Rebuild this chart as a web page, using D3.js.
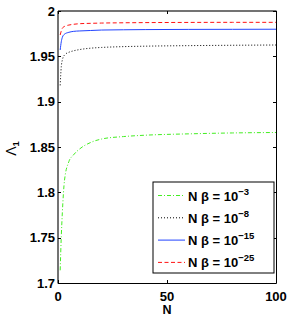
<!DOCTYPE html>
<html>
<head>
<meta charset="utf-8">
<script src="https://cdn.jsdelivr.net/npm/d3@7"></script>
<style>
  body { margin: 0; background: white; }
  text { font-family: "Liberation Sans", Arial, sans-serif; font-weight: bold; fill: #000; }
</style>
</head>
<body>
<div id="chart"></div>
<script>
// N values (x) and Lambda_1 for each N*beta
const nValues = [1, 1.5, 2, 3, 5, 7, 10, 15, 20, 30, 40, 60, 80, 100];
const lam_1e3  = [1.714, 1.751, 1.778, 1.8136, 1.834, 1.841, 1.848, 1.855, 1.8588, 1.8615, 1.863, 1.8645, 1.8655, 1.866];
const lam_1e8  = [1.918, 1.9385, 1.946, 1.9515, 1.9545, 1.956, 1.9575, 1.959, 1.9598, 1.9607, 1.9612, 1.9618, 1.9622, 1.9625];
const lam_1e15 = [1.957, 1.966, 1.971, 1.9745, 1.9765, 1.9775, 1.978, 1.9785, 1.979, 1.9793, 1.9795, 1.9797, 1.9798, 1.9799];
const lam_1e25 = [1.9735, 1.978, 1.981, 1.983, 1.9845, 1.9853, 1.986, 1.9864, 1.9867, 1.987, 1.9872, 1.9874, 1.9875, 1.9875];
const seriesExp = ["3", "8", "15", "25"];
const xTicks = [0, 50, 100];
const yTicks = [1.7, 1.75, 1.8, 1.85, 1.9, 1.95, 2];

const W = 291, H = 318;
const x0 = 58, x1 = 276, y0 = 11, y1 = 283;

const svg = d3.select("#chart").append("svg")
    .attr("width", W).attr("height", H);

const x = d3.scaleLinear().domain([0, 100]).range([x0, x1]);
const y = d3.scaleLinear().domain([1.7, 2]).range([y1, y0]);

// series styles
const series = [
    { values: lam_1e3,  color: "#44ee22", dash: "4,2,1,2" },
    { values: lam_1e8,  color: "#000000", dash: "1,2" },
    { values: lam_1e15, color: "#2244ff", dash: null },
    { values: lam_1e25, color: "#ff1111", dash: "4,2.5" }
];

const line = d3.line()
    .x((d, i) => x(nValues[i]))
    .y(d => y(d))
    .curve(d3.curveMonotoneX);

series.forEach(s => {
    svg.append("path")
        .datum(s.values)
        .attr("d", line)
        .attr("fill", "none")
        .attr("stroke", s.color)
        .attr("stroke-width", 1)
        .attr("stroke-dasharray", s.dash);
});

// axes box with inward ticks
const frame = svg.append("g").attr("stroke", "#000").attr("stroke-width", 1);
frame.append("line").attr("x1", x0).attr("x2", x1 + 0.5).attr("y1", y0).attr("y2", y0).attr("stroke", "#444").attr("stroke-width", 1.5);
frame.append("line").attr("x1", x0).attr("x2", x0).attr("y1", y0).attr("y2", y1 + 0.5).attr("stroke", "#444").attr("stroke-width", 1.5);
frame.append("line").attr("x1", x0).attr("x2", x1 + 0.5).attr("y1", y1 + 0.5).attr("y2", y1 + 0.5);
frame.append("line").attr("x1", x1 + 0.5).attr("x2", x1 + 0.5).attr("y1", y0).attr("y2", y1 + 0.5);

xTicks.forEach(t => {
    const px = Math.round(x(t)) + 0.5;
    frame.append("line").attr("x1", px).attr("x2", px).attr("y1", y1).attr("y2", y1 - 3);
    frame.append("line").attr("x1", px).attr("x2", px).attr("y1", y0).attr("y2", y0 + 3);
    svg.append("text")
        .attr("x", x(t)).attr("y", y1 + 17.5)
        .attr("text-anchor", "middle")
        .style("font-size", "13px")
        .text(t);
});

yTicks.forEach(t => {
    const py = Math.round(y(t)) + 0.5;
    frame.append("line").attr("x1", x0).attr("x2", x0 + 3).attr("y1", py).attr("y2", py);
    frame.append("line").attr("x1", x1).attr("x2", x1 - 3).attr("y1", py).attr("y2", py);
    svg.append("text")
        .attr("x", x0 - 3).attr("y", y(t))
        .attr("dy", "0.36em")
        .attr("text-anchor", "end")
        .style("font-size", "13px")
        .text(t);
});

// axis labels
svg.append("text")
    .attr("x", x(50)).attr("y", 314)
    .attr("text-anchor", "middle")
    .style("font-size", "12.5px")
    .text("N");

const yl = svg.append("text")
    .attr("transform", "translate(15.5,148.5) rotate(-90)")
    .attr("text-anchor", "middle")
    .style("font-size", "14px");
yl.append("tspan").style("font-weight", "normal").text("Λ");
yl.append("tspan").attr("dy", 3).style("font-size", "9.5px").text("1");

// legend
const lg = svg.append("g").attr("transform", "translate(153,182)");
lg.append("rect")
    .attr("x", 0).attr("y", 0)
    .attr("width", 121).attr("height", 91)
    .attr("fill", "white").attr("stroke", "#000").attr("stroke-width", 1);

series.forEach((s, i) => {
    const ly = 13.5 + i * 22.3;
    lg.append("line")
        .attr("x1", 5).attr("x2", 32)
        .attr("y1", ly).attr("y2", ly)
        .attr("stroke", s.color)
        .attr("stroke-width", 1)
        .attr("stroke-dasharray", s.dash);
    const t = lg.append("text")
        .attr("x", 35).attr("y", ly + 5)
        .style("font-size", "13px");
    t.append("tspan").text("N β = 10");
    t.append("tspan").attr("dy", -6).style("font-size", "9.5px").text("−" + seriesExp[i]);
});
</script>
</body>
</html>
